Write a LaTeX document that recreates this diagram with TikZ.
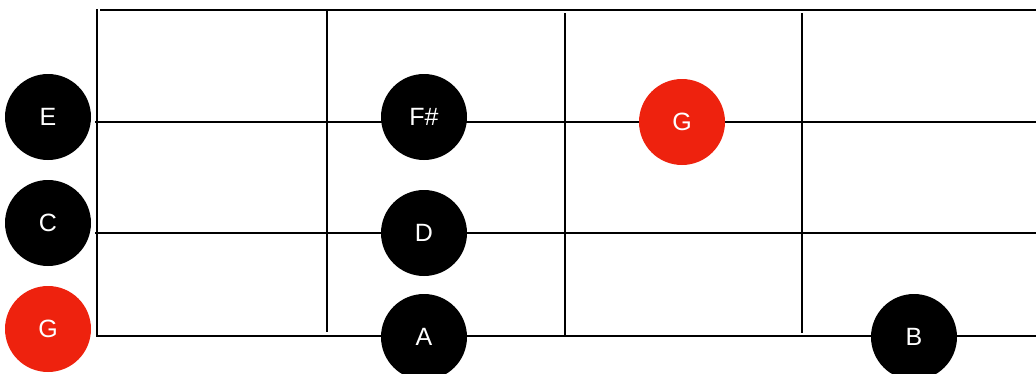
\documentclass[tikz,border=0pt]{standalone}
\usepackage{fontspec}
\setmainfont{Liberation Sans}
\usepackage{xcolor}

\definecolor{rootred}{RGB}{238,34,14}
\tikzset{
    note/.style={circle, fill=black, text=white, minimum size=86pt, inner sep=0pt,
        font=\fontsize{25}{25}\selectfont},
    rootnote/.style={note, fill=rootred},
    wire/.style={line width=2pt}
}

\begin{document}
\begin{tikzpicture}[x=1pt,y=-1pt]
    \useasboundingbox (0,0) rectangle (1036,373);
    % Draw the nut, strings and frets
    \draw[wire] (97,9) -- (97,337);
    \draw[wire] (100,10) -- (1036,10);
    \draw[wire] (95,122) -- (1036,122);
    \draw[wire] (95,233) -- (1036,233);
    \draw[wire] (97,336) -- (1036,336);
    \draw[wire] (327,11) -- (327,332);
    \draw[wire] (565,13) -- (565,335);
    \draw[wire] (802,13) -- (802,333);

    \node[note] (openE) at (48,117) {E};
    \node[note] (openC) at (48,223) {C};
    \node[rootnote] (openG) at (48,329) {G};
    \node[note] (fsharp) at (424,117) {F\#};
    \node[note] (noteD) at (424,233) {D};
    \node[note] (noteA) at (424,337) {A};
    \node[rootnote] (rootG) at (682,122) {G};
    \node[note] (noteB) at (914,337) {B};
\end{tikzpicture}
\end{document}
